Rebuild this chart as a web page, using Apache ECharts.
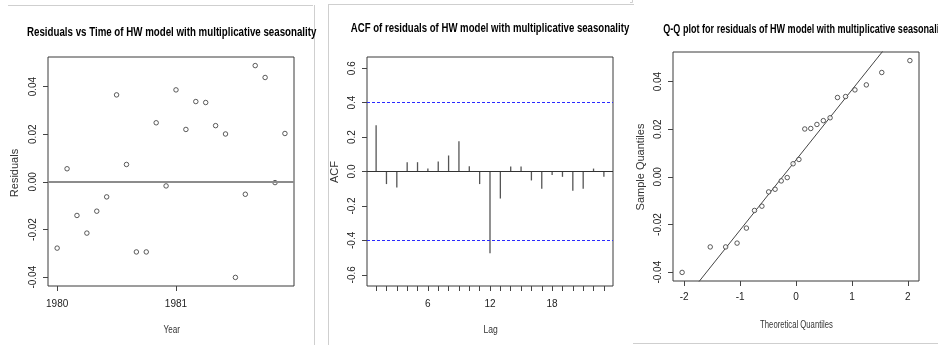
<!DOCTYPE html>
<html>
<head>
<meta charset="utf-8">
<script src="https://cdn.jsdelivr.net/npm/echarts@6/dist/echarts.min.js"></script>
<style>
  html, body { margin: 0; padding: 0; background: #ffffff; }
  #chart { width: 938px; height: 345px; }
</style>
</head>
<body>
<div id="chart"></div>
<script>
// Residuals of the Holt-Winters model with multiplicative seasonality (monthly, 1980-1981)
const startYear = 1980;
const frequency = 12;
const residuals = [
  -0.0278, 0.0055, -0.0141, -0.0215, -0.0123, -0.0063, 0.0365, 0.0073, -0.0294, -0.0294, 0.0248, -0.0017,
  0.0386, 0.0220, 0.0337, 0.0333, 0.0236, 0.0201, -0.0401, -0.0052, 0.0488, 0.0438, -0.0003, 0.0203
];

// Autocorrelation of the residuals, lags 1..23, with the 95% limit
const acfLags = [1, 2, 3, 4, 5, 6, 7, 8, 9, 10, 11, 12, 13, 14, 15, 16, 17, 18, 19, 20, 21, 22, 23];
const acfValues = [
  0.269, -0.073, -0.093, 0.054, 0.054, 0.017, 0.058, 0.093, 0.176, 0.031, -0.073, -0.475,
  -0.157, 0.029, 0.029, -0.052, -0.100, -0.021, -0.031, -0.112, -0.100, 0.017, -0.031
];
const acfLimit = 0.4;

// Normal quantiles at ppoints(24)
const theoreticalQuantiles = [
  -2.037, -1.534, -1.258, -1.054, -0.887, -0.742, -0.610, -0.489, -0.374, -0.264, -0.157, -0.052,
  0.052, 0.157, 0.264, 0.374, 0.489, 0.610, 0.742, 0.887, 1.054, 1.258, 1.534, 2.037
];

// Tick positions
const residualTicks = [-0.04, -0.02, 0, 0.02, 0.04];
const yearTicks = [1980, 1981];
const lagTicks = [6, 12, 18];
const acfTicks = [-0.6, -0.4, -0.2, 0, 0.2, 0.4, 0.6];
const quantileTicks = [-2, -1, 0, 1, 2];

// Panel titles and axis titles
const titles = [
  'Residuals vs Time of HW model with multiplicative seasonality',
  'ACF of residuals of HW model with multiplicative seasonality',
  'Q-Q plot for residuals of HW model with multiplicative seasonality'
];
const xNames = ['Year', 'Lag', 'Theoretical Quantiles'];
const yNames = ['Residuals', 'ACF', 'Sample Quantiles'];

// ---- derived data ----
const timeSeries = residuals.map((r, i) => [startYear + i / frequency, r]);
const sortedResiduals = residuals.slice().sort((a, b) => a - b);
const qqPoints = sortedResiduals.map((r, i) => [theoreticalQuantiles[i], r]);
const acfData = acfLags.map((l, i) => [l, acfValues[i]]);

function quantile7(sorted, p) {
  const h = (sorted.length - 1) * p;
  const lo = Math.floor(h);
  return sorted[lo] + (h - lo) * (sorted[lo + 1] - sorted[lo]);
}
// qqline: through the first and third quartiles
const zq = 0.6744898;
const q1 = quantile7(sortedResiduals, 0.25), q3 = quantile7(sortedResiduals, 0.75);
const qqSlope = (q3 - q1) / (2 * zq);
const qqIntercept = q1 + qqSlope * zq;

const FONT = '"Liberation Sans", Arial, sans-serif';
const ylo = -0.0437, yhi = 0.0524;
const qxlo = -2.2, qxhi = 2.2;

const boxStyle = { show: true, borderColor: '#3a3a3a', borderWidth: 1, backgroundColor: 'transparent' };

function valueAxis(opts) {
  return Object.assign({
    type: 'value',
    scale: true,
    axisLine: { show: false, onZero: false },
    splitLine: { show: false },
    axisTick: { show: true, inside: false, length: 5, lineStyle: { color: '#444', width: 1 }, customValues: opts.ticks },
    axisLabel: {
      customValues: opts.labels || opts.ticks,
      formatter: opts.fmt,
      fontFamily: FONT,
      fontSize: opts.fontSize || 10,
      color: '#222',
      rotate: opts.rotate || 0,
      margin: opts.margin
    }
  }, opts.extra);
}

function text(x, y, str, o) {
  return {
    type: 'text', x: x, y: y,
    rotation: o.rotation || 0,
    scaleX: o.scaleX || 1,
    silent: true,
    style: {
      text: str, fontFamily: FONT, fontSize: o.size, fontWeight: o.bold ? 'bold' : 'normal',
      fill: o.color || '#333', align: o.align || 'center', verticalAlign: 'middle'
    }
  };
}

const chart = echarts.init(document.getElementById('chart'), null, { renderer: 'canvas' });

chart.setOption({
  animation: false,
  backgroundColor: '#ffffff',
  grid: [
    Object.assign({ left: 48, top: 57, width: 246, height: 229 }, boxStyle),
    Object.assign({ left: 367, top: 57, width: 246, height: 229 }, boxStyle),
    Object.assign({ left: 673, top: 52, width: 246, height: 229 }, boxStyle)
  ],
  xAxis: [
    valueAxis({ ticks: yearTicks, fmt: v => String(Math.round(v)), margin: 13,
      extra: { gridIndex: 0, min: 1979.923, max: 1981.993 } }),
    valueAxis({ ticks: acfLags, labels: lagTicks, fmt: v => String(v), margin: 13,
      extra: { gridIndex: 1, min: 0.12, max: 23.88 } }),
    valueAxis({ ticks: quantileTicks, fmt: v => String(v), margin: 11,
      extra: { gridIndex: 2, min: qxlo, max: qxhi } })
  ],
  yAxis: [
    valueAxis({ ticks: residualTicks, fmt: v => v.toFixed(2), rotate: 90, margin: 10,
      extra: { gridIndex: 0, min: ylo, max: yhi } }),
    valueAxis({ ticks: acfTicks, fmt: v => v.toFixed(1), rotate: 90, margin: 10,
      extra: { gridIndex: 1, min: -0.665, max: 0.665 } }),
    valueAxis({ ticks: residualTicks, fmt: v => v.toFixed(2), rotate: 90, margin: 10,
      extra: { gridIndex: 2, min: ylo, max: yhi } })
  ],
  series: [
    {
      type: 'scatter', xAxisIndex: 0, yAxisIndex: 0,
      data: timeSeries,
      symbol: 'circle', symbolSize: 4.5,
      itemStyle: { color: '#ffffff', borderColor: '#333', borderWidth: 1 },
      markLine: {
        silent: true, symbol: 'none', label: { show: false },
        lineStyle: { color: '#8c8c8c', width: 2, type: 'solid' },
        data: [{ yAxis: 0 }]
      },
      z: 3
    },
    {
      type: 'custom', xAxisIndex: 1, yAxisIndex: 1,
      data: acfData,
      encode: { x: 0, y: 1 },
      renderItem: function (params, api) {
        const p0 = api.coord([api.value(0), 0]);
        const p1 = api.coord([api.value(0), api.value(1)]);
        return {
          type: 'line',
          shape: { x1: p0[0], y1: p0[1], x2: p1[0], y2: p1[1] },
          style: { stroke: '#555', lineWidth: 1.3 }
        };
      },
      markLine: {
        silent: true, symbol: 'none', label: { show: false },
        data: [
          { yAxis: 0, lineStyle: { color: '#333', width: 1, type: 'solid' } },
          { yAxis: acfLimit, lineStyle: { color: '#2a2aff', width: 1, type: [3, 2] } },
          { yAxis: -acfLimit, lineStyle: { color: '#2a2aff', width: 1, type: [3, 2] } }
        ]
      }
    },
    {
      type: 'scatter', xAxisIndex: 2, yAxisIndex: 2,
      data: qqPoints,
      symbol: 'circle', symbolSize: 4.5,
      itemStyle: { color: '#ffffff', borderColor: '#333', borderWidth: 1 },
      z: 3
    },
    {
      type: 'line', xAxisIndex: 2, yAxisIndex: 2,
      data: [[qxlo, qqIntercept + qqSlope * qxlo], [qxhi, qqIntercept + qqSlope * qxhi]],
      showSymbol: false, symbol: 'none', clip: true,
      lineStyle: { color: '#444', width: 1 },
      silent: true
    }
  ],
  graphic: [
    // panel frames
    { type: 'line', silent: true, shape: { x1: 8, y1: 5.5, x2: 313, y2: 5.5 }, style: { stroke: '#cfcfcf', lineWidth: 1 } },
    { type: 'line', silent: true, shape: { x1: 314.5, y1: 5, x2: 314.5, y2: 345 }, style: { stroke: '#cfcfcf', lineWidth: 1 } },
    { type: 'line', silent: true, shape: { x1: 328.5, y1: 4.5, x2: 328.5, y2: 345 }, style: { stroke: '#cfcfcf', lineWidth: 1 } },
    { type: 'line', silent: true, shape: { x1: 328, y1: 4.5, x2: 634, y2: 4.5 }, style: { stroke: '#cfcfcf', lineWidth: 1 } },
    { type: 'line', silent: true, shape: { x1: 633, y1: 343.5, x2: 938, y2: 343.5 }, style: { stroke: '#cfcfcf', lineWidth: 1 } },
    { type: 'polyline', silent: true, shape: { points: [[630, 2.5], [632.5, 2.5], [632.5, 0]] }, style: { stroke: '#cfcfcf', lineWidth: 1, fill: null } },
    // panel titles
    text(171.7, 33, titles[0], { size: 12, bold: true, color: '#000', scaleX: 0.81 }),
    text(490, 29, titles[1], { size: 12, bold: true, color: '#000', scaleX: 0.80 }),
    text(663.3, 30, titles[2], { size: 12, bold: true, color: '#000', scaleX: 0.755, align: 'left' }),
    // axis titles
    text(171.7, 330, xNames[0], { size: 11, scaleX: 0.74 }),
    text(490.7, 330, xNames[1], { size: 11, scaleX: 0.78 }),
    text(796.5, 325, xNames[2], { size: 11, scaleX: 0.70 }),
    text(15, 173, yNames[0], { size: 11, rotation: Math.PI / 2 }),
    text(335, 172, yNames[1], { size: 11, rotation: Math.PI / 2 }),
    text(641, 167, yNames[2], { size: 11, rotation: Math.PI / 2 })
  ]
});
</script>
</body>
</html>
